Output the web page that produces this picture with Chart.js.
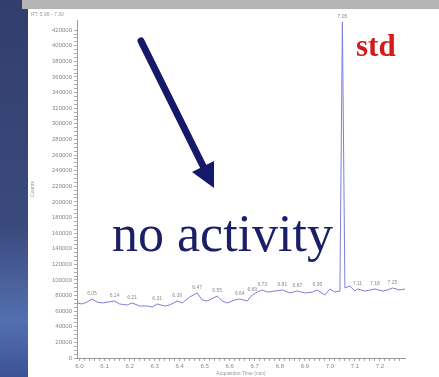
<!DOCTYPE html>
<html>
<head>
<meta charset="utf-8">
<script src="https://cdn.jsdelivr.net/npm/chart.js@4"></script>
<style>
  html, body { margin: 0; padding: 0; background: #fff; }
  #wrap { position: relative; width: 439px; height: 377px; overflow: hidden; }
  canvas { display: block; }
</style>
</head>
<body>
<div id="wrap"><canvas id="c" width="439" height="377"></canvas></div>
<script>
// Retention time (min) and detector counts of the trace
const times = [5.99, 6.01, 6.03, 6.05, 6.07, 6.09, 6.14, 6.16, 6.19, 6.21, 6.24, 6.27, 6.29, 6.31, 6.34, 6.36,
  6.39, 6.41, 6.44, 6.47, 6.49, 6.51, 6.55, 6.57, 6.59, 6.62, 6.64, 6.67, 6.69, 6.71, 6.73, 6.75, 6.78, 6.81,
  6.84, 6.87, 6.90, 6.93, 6.95, 6.98, 7.00, 7.02, 7.04, 7.05, 7.06, 7.08, 7.10, 7.11, 7.14, 7.16, 7.18, 7.21,
  7.23, 7.25, 7.28, 7.30];
const counts = [70500, 69200, 71700, 75600, 71700, 70500, 73000, 69200, 67900, 70500, 66600, 66600, 65300, 69200, 66600, 67900,
  73000, 70500, 78100, 83300, 74300, 73000, 79400, 73000, 70500, 74300, 75600, 73000, 80700, 84500, 87100, 84500, 85800, 87100,
  83300, 85800, 83300, 84500, 87100, 80700, 88400, 84500, 85800, 430000, 89700, 92200, 85800, 88400, 85800, 87100, 88400, 85800,
  87100, 89700, 87100, 88400];

// Labelled peaks (retention times)
const peakTimes = [6.05, 6.14, 6.21, 6.31, 6.39, 6.47, 6.55, 6.64, 6.69, 6.73, 6.81, 6.87, 6.95, 7.05, 7.11, 7.18, 7.25];

// Axis settings
const xMin = 5.99, xMax = 7.30;
const yMax = 433000, yTop = 420000;
const rangeText = 'RT: 5.99 - 7.30';

const points = times.map((t, i) => ({ x: t, y: counts[i] }));

const decor = {
  id: 'decor',
  beforeDraw(chart) {
    const ctx = chart.ctx;
    ctx.save();
    // slide background
    const g = ctx.createLinearGradient(0, 0, 0, 377);
    g.addColorStop(0, '#323e6c');
    g.addColorStop(0.6, '#3a4a7e');
    g.addColorStop(0.85, '#5470b0');
    g.addColorStop(1, '#3c5294');
    ctx.fillStyle = g;
    ctx.fillRect(0, 0, 30, 377);
    ctx.fillStyle = '#b4b4b4';
    ctx.fillRect(22, 0, 417, 9);
    ctx.fillStyle = '#ffffff';
    ctx.fillRect(28, 9, 411, 368);
    // range header
    ctx.fillStyle = '#999';
    ctx.font = '5px "Liberation Sans", Arial, sans-serif';
    ctx.textBaseline = 'alphabetic';
    ctx.fillText(rangeText, 31, 16);
    ctx.restore();
  },
  afterDraw(chart) {
    const ctx = chart.ctx;
    const xs = chart.scales.x, ys = chart.scales.y;
    ctx.save();
    // peak labels
    ctx.fillStyle = '#8a8a8a';
    ctx.font = '5px "Liberation Sans", Arial, sans-serif';
    ctx.textAlign = 'center';
    ctx.textBaseline = 'bottom';
    peakTimes.forEach(t => {
      const i = times.indexOf(t);
      const px = xs.getPixelForValue(t);
      const py = ys.getPixelForValue(counts[i]);
      ctx.fillText(t.toFixed(2), px, py - 3);
    });
    // arrow
    ctx.strokeStyle = '#15196a';
    ctx.fillStyle = '#15196a';
    ctx.lineWidth = 7;
    ctx.lineCap = 'round';
    ctx.beginPath();
    ctx.moveTo(141, 41);
    ctx.lineTo(205, 170);
    ctx.stroke();
    ctx.beginPath();
    ctx.moveTo(214, 188);
    ctx.lineTo(192, 172);
    ctx.lineTo(214, 161);
    ctx.closePath();
    ctx.fill();
    // annotation texts
    ctx.textAlign = 'left';
    ctx.textBaseline = 'alphabetic';
    ctx.fillStyle = '#1a1f66';
    ctx.font = '52px "Liberation Serif", "Times New Roman", serif';
    ctx.fillText('no activity', 112, 251);
    ctx.fillStyle = '#d41a1a';
    ctx.font = 'bold 31px "Liberation Serif", "Times New Roman", serif';
    ctx.fillText('std', 356, 56);
    ctx.restore();
  }
};

new Chart(document.getElementById('c'), {
  type: 'line',
  data: {
    datasets: [{
      data: points,
      borderColor: '#7c80da',
      borderWidth: 1,
      pointRadius: 0,
      tension: 0,
      fill: false
    }]
  },
  options: {
    responsive: false,
    animation: false,
    layout: { padding: { left: 30, top: 20, right: 34, bottom: 0 } },
    plugins: { legend: { display: false }, tooltip: { enabled: false } },
    scales: {
      x: {
        type: 'linear',
        min: xMin,
        max: xMax,
        afterBuildTicks(scale) {
          const t = [];
          for (let k = 300; k <= 364; k++) t.push({ value: k / 50 });
          scale.ticks = t;
        },
        afterFit(scale) { scale.height = 19; },
        ticks: {
          autoSkip: false,
          maxRotation: 0,
          padding: 2,
          color: '#888',
          font: { size: 6, family: '"Liberation Sans", Arial, sans-serif' },
          callback(v) {
            const k = Math.round(v * 50);
            return k % 5 === 0 ? (k / 50).toFixed(1) : '';
          }
        },
        grid: { drawOnChartArea: false, tickLength: 3, color: '#aaa' },
        border: { color: '#999' },
        title: {
          display: true,
          text: 'Acquisition Time (min)',
          color: '#999',
          font: { size: 5, family: '"Liberation Sans", Arial, sans-serif' },
          padding: 0
        }
      },
      y: {
        min: 0,
        max: yMax,
        afterBuildTicks(scale) {
          const t = [];
          for (let v = 0; v <= yTop; v += 5000) t.push({ value: v });
          scale.ticks = t;
        },
        afterFit(scale) { scale.width = 47; },
        ticks: {
          autoSkip: false,
          padding: 2,
          color: '#888',
          font: { size: 6, family: '"Liberation Sans", Arial, sans-serif' },
          callback(v) { return v % 20000 === 0 ? String(v) : ''; }
        },
        grid: { drawOnChartArea: false, tickLength: 3, color: '#aaa' },
        border: { color: '#999' },
        title: {
          display: true,
          text: 'Counts',
          color: '#999',
          font: { size: 5, family: '"Liberation Sans", Arial, sans-serif' },
          padding: 0
        }
      }
    }
  },
  plugins: [decor]
});
</script>
</body>
</html>
